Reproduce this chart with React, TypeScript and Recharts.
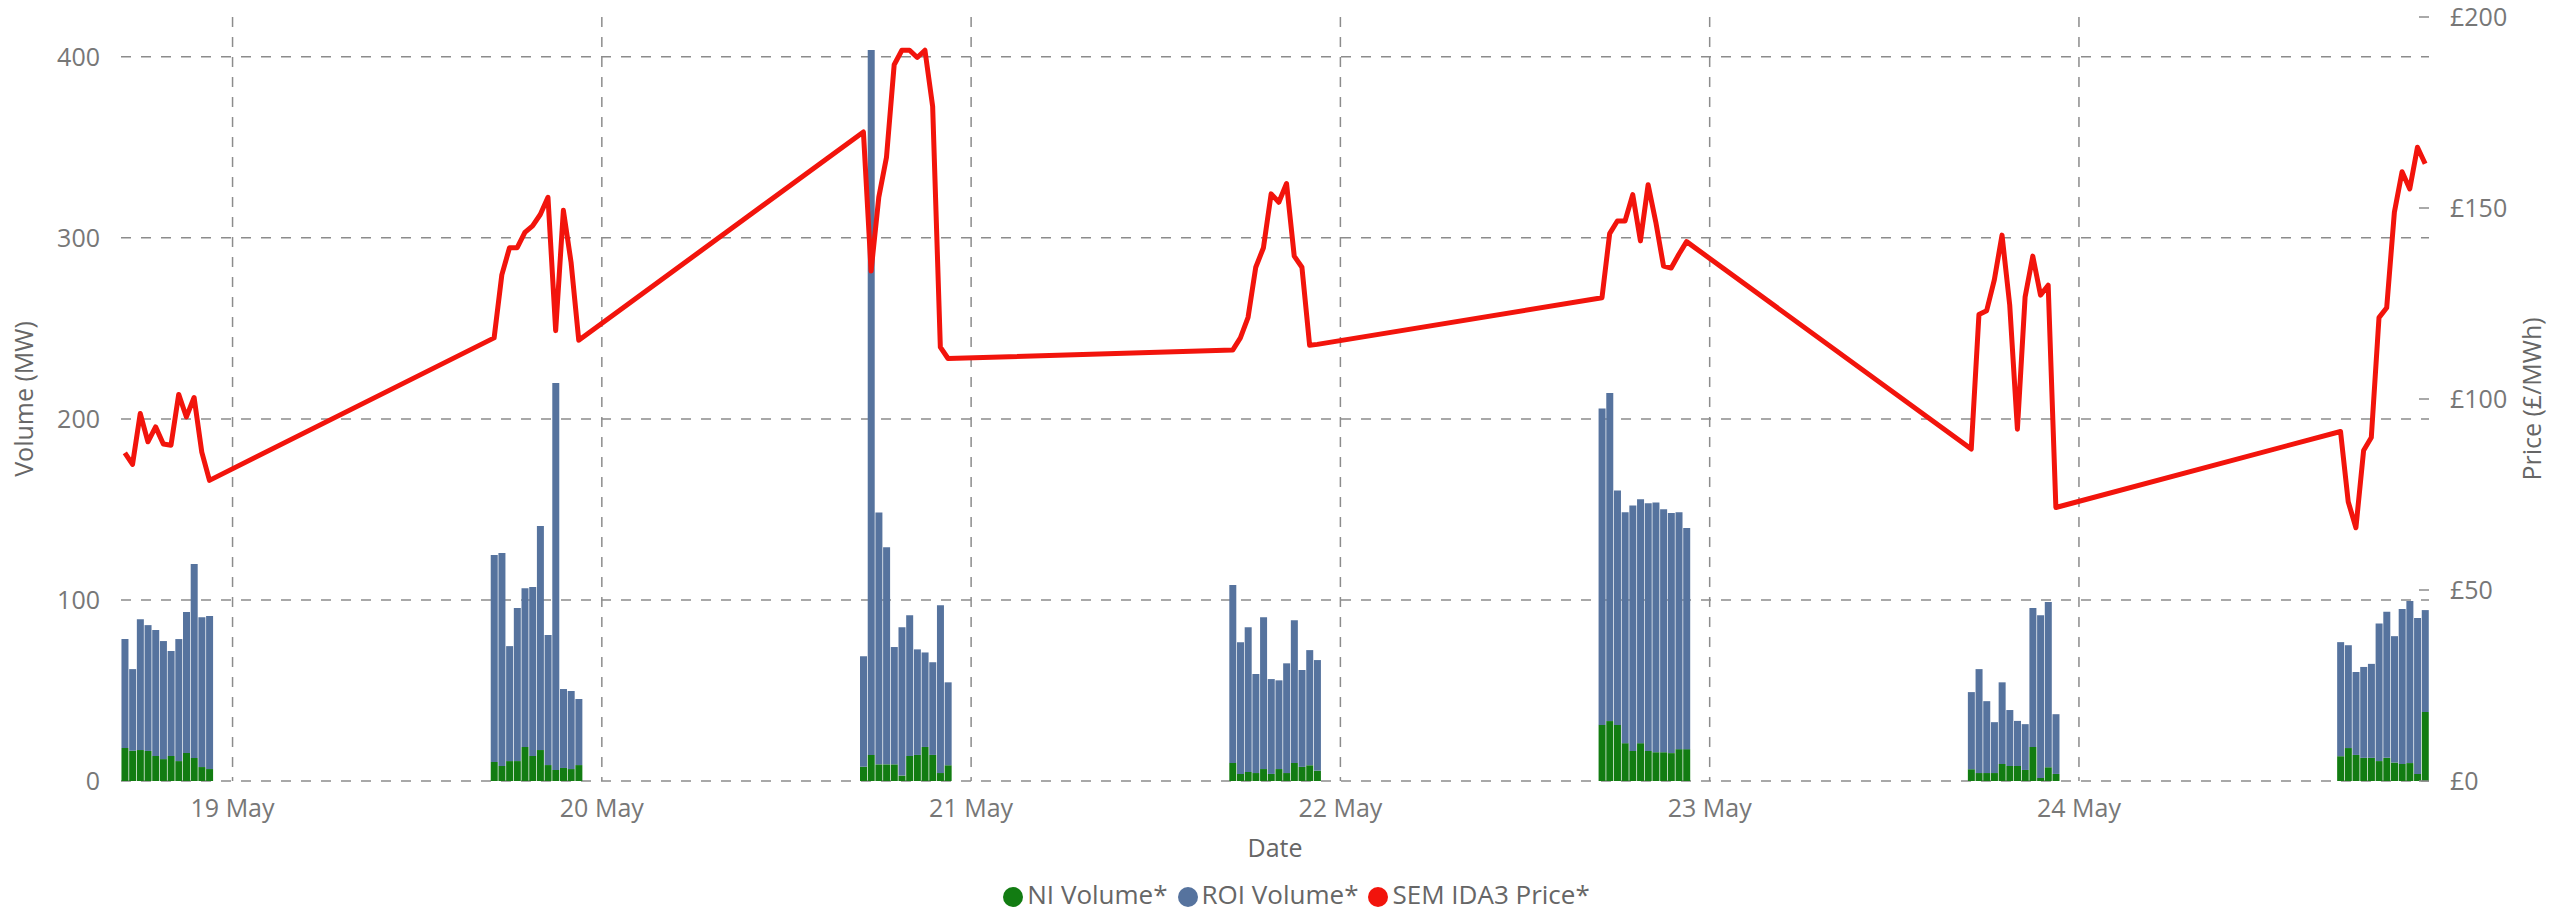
import { Bar, CartesianGrid, ComposedChart, Legend, Line, XAxis, YAxis } from 'recharts';

// hours are counted from 18 May 00:00; one IDA3 auction (17:00-23:00) per day
const auctionDays = [0, 1, 2, 3, 4, 5, 6];
const halfHours = [17, 17.5, 18, 18.5, 19, 19.5, 20, 20.5, 21, 21.5, 22, 22.5];

const dayTicks = [24, 48, 72, 96, 120, 144];
const dayLabels = ['19 May', '20 May', '21 May', '22 May', '23 May', '24 May'];
const volumeTicks = [0, 100, 200, 300, 400];
const priceTicks = [0, 50, 100, 150, 200];

// NI volume (MW), 12 half hours per auction day
const niVolume = [
  18.2, 16.7, 17.1, 16.6, 13.8, 12.1, 13.8, 11.0, 15.5, 12.7, 7.7, 6.6,
  10.5, 8.3, 11.0, 11.0, 18.8, 13.8, 17.1, 8.8, 6.1, 7.2, 6.6, 8.8,
  7.9, 14.4, 9.2, 9.2, 9.2, 3.0, 13.8, 14.4, 18.8, 14.4, 4.4, 8.7,
  10.0, 3.9, 5.0, 4.4, 6.6, 3.9, 6.6, 4.4, 10.0, 7.8, 8.7, 5.7,
  31.0, 33.1, 31.0, 20.9, 16.6, 20.9, 16.6, 15.9, 15.9, 15.4, 17.6, 17.6,
  6.5, 4.4, 4.4, 4.4, 9.4, 8.3, 8.3, 6.1, 18.8, 1.7, 7.6, 3.9,
  13.7, 18.2, 14.4, 12.8, 12.8, 11.0, 12.8, 10.2, 9.4, 9.9, 3.9, 38.1,
];

// ROI volume (MW)
const roiVolume = [
  60.2, 45.1, 72.3, 69.5, 69.6, 65.2, 58.0, 67.4, 77.8, 107.1, 82.8, 84.5,
  114.3, 117.6, 63.5, 84.5, 87.7, 93.3, 123.7, 71.8, 213.8, 43.6, 43.1, 36.5,
  61.0, 389.4, 139.1, 119.9, 64.8, 81.9, 77.8, 58.3, 52.2, 51.2, 92.7, 45.8,
  98.3, 72.8, 79.9, 54.7, 83.8, 52.4, 49.0, 60.6, 78.8, 53.5, 63.6, 61.1,
  174.8, 181.2, 129.5, 127.5, 135.6, 134.7, 136.8, 138.0, 134.2, 132.6, 130.8, 122.1,
  42.6, 57.4, 39.7, 28.1, 45.1, 30.9, 24.9, 25.3, 76.8, 89.9, 91.3, 33.0,
  63.0, 56.8, 45.8, 50.2, 51.9, 76.0, 80.7, 69.8, 85.6, 89.5, 86.1, 56.3,
];

// SEM IDA3 price (GBP/MWh)
const idaPrice = [
  85.9, 82.9, 96.2, 88.8, 92.7, 88.2, 87.9, 101.2, 95.3, 100.4, 86.1, 78.7,
  116.0, 132.5, 139.6, 139.6, 143.6, 145.3, 148.3, 152.8, 117.9, 149.4, 135.8, 115.4,
  169.9, 133.5, 152.8, 163.3, 187.5, 191.3, 191.3, 189.4, 191.3, 176.6, 113.6, 110.6,
  112.8, 116.0, 121.4, 134.5, 139.6, 153.7, 151.5, 156.4, 137.4, 134.5, 114.1, 114.3,
  126.5, 143.3, 146.6, 146.6, 153.5, 141.4, 156.1, 146.3, 134.8, 134.3, 137.9, 141.2,
  86.9, 122.1, 123.1, 131.2, 142.9, 124.6, 92.1, 126.7, 137.4, 127.2, 129.8, 71.6,
  91.5, 73.1, 66.3, 86.5, 89.9, 121.3, 123.9, 148.9, 159.5, 155.0, 165.9, 161.6,
];

const rows = auctionDays.flatMap((day, i) =>
  halfHours.map((h, j) => {
    const k = i * halfHours.length + j;
    return { t: day * 24 + h, ni: niVolume[k], roi: roiVolume[k], price: idaPrice[k] };
  })
);

const FONT = "'Segoe UI', 'Open Sans', sans-serif";
const GRID = '#8c8c8c';

const PriceTick = ({ x, y, payload }: any) => (
  <g>
    <line x1={x - 31} x2={x - 21} y1={y} y2={y} stroke={GRID} strokeWidth={1.5} />
    <text x={x} y={y} dy="0.35em" fill="#777" fontSize={25} fontFamily={FONT}>
      £{payload.value}
    </text>
  </g>
);

const App = () => {
  return (
    <div style={{ width: 2563, height: 909, fontFamily: FONT }}>
      <style>{'body{margin:0}'}</style>
      <ComposedChart
        width={2563}
        height={909}
        data={rows}
        margin={{ top: 17, right: 0, bottom: 48, left: 0 }}
        barCategoryGap="6%"
      >
        <CartesianGrid yAxisId="vol" syncWithTicks stroke={GRID} strokeWidth={1.5} strokeDasharray="10 10" />
        <XAxis
          type="number"
          dataKey="t"
          domain={[16.75, 166.75]}
          ticks={dayTicks}
          tickFormatter={(v: number) => dayLabels[dayTicks.indexOf(v)] ?? ''}
          height={80}
          axisLine={false}
          tickLine={false}
          tickMargin={12}
          tick={{ fontSize: 25, fill: '#777' }}
          label={{ value: 'Date', position: 'insideBottom', offset: 4, fill: '#666', fontSize: 25 }}
        />
        <YAxis
          yAxisId="vol"
          width={121}
          domain={[0, 422]}
          ticks={volumeTicks}
          axisLine={false}
          tickLine={false}
          tickMargin={15}
          tick={{ fontSize: 25, fill: '#777' }}
          label={{
            value: 'Volume (MW)',
            angle: -90,
            position: 'insideLeft',
            offset: 24,
            fill: '#666',
            fontSize: 25,
            style: { textAnchor: 'middle' },
          }}
        />
        <YAxis
          yAxisId="price"
          orientation="right"
          width={134}
          domain={[0, 200]}
          ticks={priceTicks}
          axisLine={false}
          tickLine={false}
          tickSize={0}
          tickMargin={21}
          tick={<PriceTick />}
          label={{
            value: 'Price (£/MWh)',
            angle: -90,
            position: 'insideRight',
            offset: 31,
            fill: '#666',
            fontSize: 25,
            style: { textAnchor: 'middle' },
          }}
        />
        <Bar yAxisId="vol" dataKey="ni" stackId="vol" name="NI Volume*" fill="#127c12" isAnimationActive={false} />
        <Bar yAxisId="vol" dataKey="roi" stackId="vol" name="ROI Volume*" fill="#56739e" isAnimationActive={false} />
        <Line
          yAxisId="price"
          type="linear"
          dataKey="price"
          name="SEM IDA3 Price*"
          stroke="#f2140c"
          strokeWidth={5}
          strokeLinejoin="round"
          dot={false}
          activeDot={false}
          isAnimationActive={false}
        />
        <Legend
          verticalAlign="middle"
          align="center"
          iconType="circle"
          iconSize={20}
          wrapperStyle={{ top: 877, left: 20, width: 2563, fontSize: 26, lineHeight: '34px' }}
          formatter={(value: string) => <span style={{ color: '#666' }}>{value}</span>}
        />
      </ComposedChart>
    </div>
  );
};

export default App;
